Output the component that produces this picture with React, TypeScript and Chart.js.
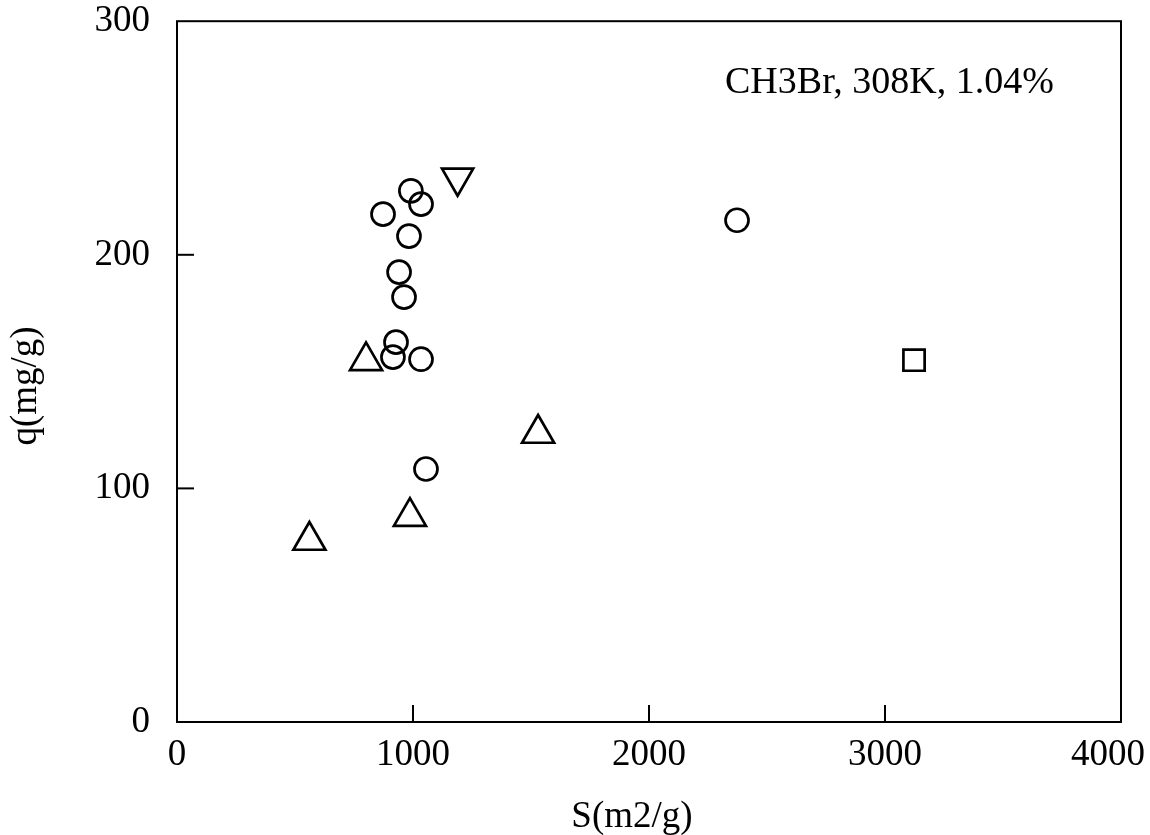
import React, { useEffect, useRef } from 'react';
import { Chart, registerables } from 'chart.js';
Chart.register(...registerables);

// Data
const circleS = [991, 1034, 873, 983, 941, 962, 928, 915, 1034, 1055, 2373];
const circleQ = [227.4, 221.7, 217.4, 208, 192.6, 181.9, 162.6, 156.2, 155.3, 108.3, 214.8];
const upS = [801, 1530, 987, 561];
const upQ = [154.6, 123.5, 87.9, 77.7];
const downS = [1189];
const downQ = [233.0];
const squareS = [3123];
const squareQ = [154.9];
const xTickValues = [0, 1000, 2000, 3000, 4000];
const yTickValues = [0, 100, 200, 300];
const xTitle = 'S(m2/g)';
const yTitle = 'q(mg/g)';
const note = 'CH3Br, 308K, 1.04%';

const FONT = '"Liberation Serif", "Times New Roman", serif';

const pts = (xs: number[], ys: number[]) => xs.map((x, i) => ({ x, y: ys[i] }));

const decorPlugin = {
  id: 'decor',
  afterDraw(chart: any) {
    const { ctx, chartArea, width } = chart;
    const xs = chart.scales.x;
    const ys = chart.scales.y;
    ctx.save();
    ctx.strokeStyle = '#000';
    ctx.lineWidth = 2;
    ctx.strokeRect(chartArea.left, chartArea.top, chartArea.right - chartArea.left, chartArea.bottom - chartArea.top);
    // inward tick marks
    const tl = 17;
    xs.ticks.forEach((t: any) => {
      if (t.value <= xs.min || t.value >= xs.max) return;
      const px = xs.getPixelForValue(t.value);
      ctx.beginPath();
      ctx.moveTo(px, chartArea.bottom);
      ctx.lineTo(px, chartArea.bottom - tl);
      ctx.stroke();
    });
    ys.ticks.forEach((t: any) => {
      if (t.value <= ys.min || t.value >= ys.max) return;
      const py = ys.getPixelForValue(t.value);
      ctx.beginPath();
      ctx.moveTo(chartArea.left, py);
      ctx.lineTo(chartArea.left + tl, py);
      ctx.stroke();
    });
    ctx.fillStyle = '#000';
    // x tick labels (kept inside the canvas edge)
    ctx.font = `37px ${FONT}`;
    ctx.textAlign = 'center';
    ctx.textBaseline = 'alphabetic';
    xs.ticks.forEach((t: any) => {
      const label = String(t.value);
      const w = ctx.measureText(label).width;
      let cx = xs.getPixelForValue(t.value);
      cx = Math.min(cx, width - 5 - w / 2);
      cx = Math.max(cx, 5 + w / 2);
      ctx.fillText(label, cx, 765);
    });
    // titles
    ctx.fillText(xTitle, 632, 827);
    ctx.save();
    ctx.translate(36, 386);
    ctx.rotate(-Math.PI / 2);
    ctx.fillText(yTitle, 0, 0);
    ctx.restore();
    ctx.font = `38px ${FONT}`;
    ctx.textAlign = 'left';
    ctx.fillText(note, 725, 93);
    ctx.restore();
  },
};

const zeroPad = (s: any) => {
  s.paddingTop = 0;
  s.paddingBottom = 0;
  s.paddingLeft = 0;
  s.paddingRight = 0;
};

export default function App() {
  const ref = useRef<HTMLCanvasElement>(null);
  useEffect(() => {
    if (!ref.current) return;
    const common = {
      backgroundColor: 'rgba(0,0,0,0)',
      borderColor: '#000',
      borderWidth: 2.7,
      showLine: false,
    };
    const chart = new Chart(ref.current, {
      type: 'scatter',
      data: {
        datasets: [
          { ...common, label: 'circle', data: pts(circleS, circleQ), pointStyle: 'circle', pointRadius: 11.5 },
          { ...common, label: 'up', data: pts(upS, upQ), pointStyle: 'triangle', pointRadius: 18.5 },
          { ...common, label: 'down', data: pts(downS, downQ), pointStyle: 'triangle', pointRotation: 180, pointRadius: 18 },
          { ...common, label: 'square', data: pts(squareS, squareQ), pointStyle: 'rect', pointRadius: 15 },
        ],
      },
      options: {
        responsive: false,
        animation: false,
        layout: { padding: { left: 0, top: 21, right: 29, bottom: 0 } },
        plugins: { legend: { display: false }, tooltip: { enabled: false } },
        scales: {
          x: {
            type: 'linear',
            min: 0,
            max: 4000,
            afterBuildTicks: (s: any) => { s.ticks = xTickValues.map((v) => ({ value: v })); },
            afterFit: (s: any) => { s.height = 113; zeroPad(s); },
            grid: { display: false, drawTicks: false },
            border: { display: false },
            ticks: { display: false, autoSkip: false },
          },
          y: {
            type: 'linear',
            min: 0,
            max: 300,
            afterBuildTicks: (s: any) => { s.ticks = yTickValues.map((v) => ({ value: v })); },
            afterFit: (s: any) => { s.width = 177; zeroPad(s); },
            grid: { display: false, drawTicks: false },
            border: { display: false },
            ticks: { color: '#000', font: { family: FONT, size: 37 }, padding: 27, callback: (v: any) => String(v) },
          },
        },
      },
      plugins: [decorPlugin],
    } as any);
    return () => chart.destroy();
  }, []);
  return (
    <div style={{ position: 'fixed', left: 0, top: 0, width: 1150, height: 835, background: '#fff' }}>
      <canvas ref={ref} width={1150} height={835} style={{ display: 'block' }} />
    </div>
  );
}
